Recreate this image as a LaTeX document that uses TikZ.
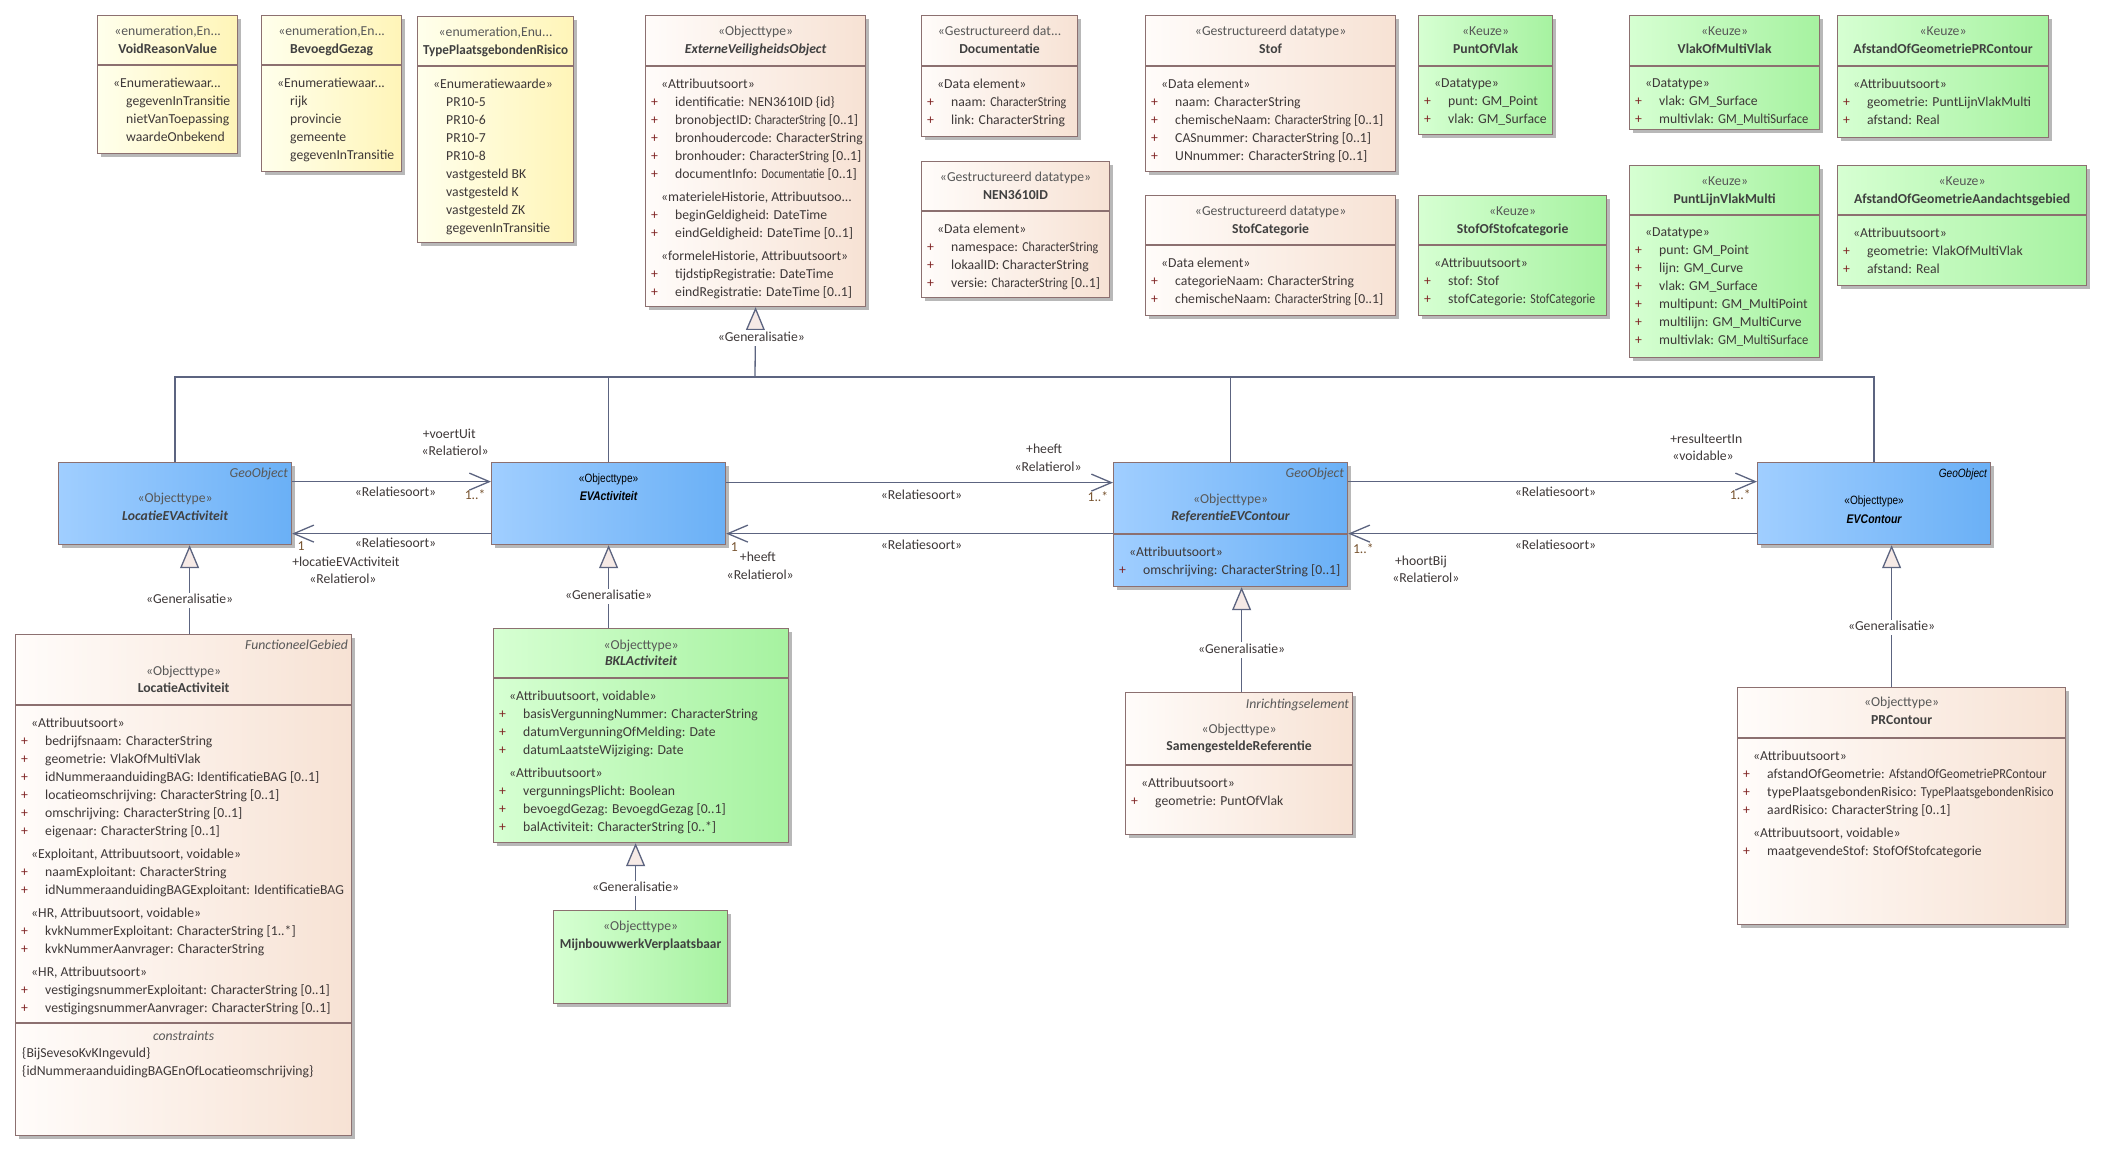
\documentclass[tikz,border=0pt]{standalone}
\usepackage{fontspec}
\setmainfont{Carlito}
\newfontfamily\narrowfont[FakeStretch=0.84]{Liberation Sans}
\usepackage{xcolor}
\usepackage{graphicx}
\usetikzlibrary{positioning,calc,arrows.meta,shadows}

\definecolor{umlline}{RGB}{140,112,112}
\definecolor{connline}{RGB}{92,100,128}
\definecolor{umltext}{RGB}{62,56,56}
\definecolor{stereotext}{RGB}{88,88,88}
\definecolor{nametext}{RGB}{64,64,64}
\definecolor{plusred}{RGB}{128,36,36}
\definecolor{multtext}{RGB}{120,84,48}
\definecolor{enumleft}{RGB}{255,255,236}
\definecolor{enumright}{RGB}{255,245,184}
\definecolor{dataleft}{RGB}{255,252,250}
\definecolor{dataright}{RGB}{247,226,212}
\definecolor{choiceleft}{RGB}{214,255,210}
\definecolor{choiceright}{RGB}{166,242,160}
\definecolor{geoleft}{RGB}{160,206,255}
\definecolor{georight}{RGB}{106,176,246}
\definecolor{genfill}{RGB}{246,234,230}

\newcommand{\umlsize}{\fontsize{13.7pt}{18pt}\selectfont}
\newcommand{\umlattr}[1]{\makebox[24pt][l]{\textcolor{plusred}{+}}#1}
\newcommand{\umlgroup}[1]{\hspace*{10pt}#1}
\newcommand{\umlvalue}[1]{\hspace*{23pt}#1}
\newcommand{\umlsqueeze}[2]{\scalebox{#1}[1]{#2}}

\tikzset{
	umlbox/.style={draw=umlline, line width=1.2pt, anchor=north west, inner sep=0pt,
		drop shadow={shadow xshift=3pt, shadow yshift=-3pt, fill=black!28, opacity=1}},
	enumbox/.style={umlbox, left color=enumleft, right color=enumright},
	databox/.style={umlbox, left color=dataleft, right color=dataright},
	choicebox/.style={umlbox, left color=choiceleft, right color=choiceright},
	geobox/.style={umlbox, left color=geoleft, right color=georight},
	divline/.style={draw=umlline, line width=1.2pt},
	umlstereo/.style={inner sep=0pt, text height=9.5pt, text depth=3pt, text=stereotext, font=\umlsize},
	umlname/.style={inner sep=0pt, text height=9.5pt, text depth=3pt, text=nametext, font=\umlsize\bfseries},
	umlabstract/.style={umlname, font=\umlsize\bfseries\itshape},
	umltag/.style={inner sep=0pt, anchor=east, text height=9.5pt, text depth=3pt, text=stereotext, font=\umlsize\itshape},
	umlbody/.style={anchor=north west, align=left, inner sep=0pt, text=umltext, font=\umlsize,
		execute at begin node={\rule{0pt}{11pt}}},
	narrowstereo/.style={text=black, font=\narrowfont\fontsize{12pt}{14pt}\selectfont},
	narrowname/.style={text=black, font=\narrowfont\fontsize{12.5pt}{14pt}\selectfont\bfseries\itshape},
	assoc/.style={draw=connline, line width=1.3pt, -{Straight Barb[length=20pt,width=17pt]}},
	gen/.style={draw=connline, line width=1.3pt, -{Triangle[length=23pt,width=19pt,fill=genfill]}},
	lbl/.style={inner sep=0pt, text height=9.5pt, text depth=3pt, text=umltext, font=\umlsize},
	mult/.style={lbl, text=multtext},
	genlbl/.style={lbl, fill=white, inner sep=1.5pt}
}

\begin{document}
\begin{tikzpicture}[x=1pt, y=-1pt]
	\fill[white] (0,0) rectangle (2106,1152);
	\useasboundingbox (0,0) rectangle (2106,1152);

	% enumerations
	\node[enumbox, minimum width=140pt, minimum height=138pt] (voidreason) at (97,15) {};
	\draw[divline] ([yshift=-50pt]voidreason.north west) -- ([yshift=-50pt]voidreason.north east);
	\node[umlstereo] (voidreason-st) at ([yshift=-17pt]voidreason.north) {«enumeration,En...};
	\node[umlname] (voidreason-nm) at ([yshift=-35pt]voidreason.north) {VoidReasonValue};
	\node[umlbody] (voidreason-bd) at ([xshift=6pt,yshift=-63pt]voidreason.north west)
		{\umlgroup{«Enumeratiewaar...}\\ \umlvalue{gegevenInTransitie}\\ \umlvalue{nietVanToepassing}\\ \umlvalue{waardeOnbekend}};

	\node[enumbox, minimum width=140pt, minimum height=156pt] (bevoegd) at (261,15) {};
	\draw[divline] ([yshift=-50pt]bevoegd.north west) -- ([yshift=-50pt]bevoegd.north east);
	\node[umlstereo] (bevoegd-st) at ([yshift=-17pt]bevoegd.north) {«enumeration,En...};
	\node[umlname] (bevoegd-nm) at ([yshift=-35pt]bevoegd.north) {BevoegdGezag};
	\node[umlbody] (bevoegd-bd) at ([xshift=6pt,yshift=-63pt]bevoegd.north west)
		{\umlgroup{«Enumeratiewaar...}\\ \umlvalue{rijk}\\ \umlvalue{provincie}\\ \umlvalue{gemeente}\\ \umlvalue{gegevenInTransitie}};

	\node[enumbox, minimum width=156pt, minimum height=226pt] (typepr) at (417,16) {};
	\draw[divline] ([yshift=-50pt]typepr.north west) -- ([yshift=-50pt]typepr.north east);
	\node[umlstereo] (typepr-st) at ([yshift=-17pt]typepr.north) {«enumeration,Enu...};
	\node[umlname] (typepr-nm) at ([yshift=-35pt]typepr.north) {\umlsqueeze{0.96}{TypePlaatsgebondenRisico}};
	\node[umlbody] (typepr-bd) at ([xshift=6pt,yshift=-63pt]typepr.north west)
		{\umlgroup{«Enumeratiewaarde»}\\ \umlvalue{PR10-5}\\ \umlvalue{PR10-6}\\ \umlvalue{PR10-7}\\ \umlvalue{PR10-8}\\
		 \umlvalue{vastgesteld BK}\\ \umlvalue{vastgesteld K}\\ \umlvalue{vastgesteld ZK}\\ \umlvalue{gegevenInTransitie}};

	% supertype
	\node[databox, minimum width=220pt, minimum height=291pt] (evo) at (645,15) {};
	\draw[divline] ([yshift=-51pt]evo.north west) -- ([yshift=-51pt]evo.north east);
	\node[umlstereo] (evo-st) at ([yshift=-17pt]evo.north) {«Objecttype»};
	\node[umlabstract] (evo-nm) at ([yshift=-35pt]evo.north) {ExterneVeiligheidsObject};
	\node[umlbody] (evo-bd) at ([xshift=6pt,yshift=-64pt]evo.north west)
		{\umlgroup{«Attribuutsoort»}\\ \umlattr{identificatie: NEN3610ID \{id\}}\\ \umlattr{bronobjectID: \umlsqueeze{0.82}{CharacterString} [0..1]}\\
		 \umlattr{bronhoudercode: CharacterString}\\ \umlattr{bronhouder: \umlsqueeze{0.92}{CharacterString} [0..1]}\\ \umlattr{documentInfo: \umlsqueeze{0.8}{Documentatie} [0..1]}\\[5pt]
		 \umlgroup{«materieleHistorie, Attribuutsoo...}\\ \umlattr{beginGeldigheid: DateTime}\\ \umlattr{eindGeldigheid: DateTime [0..1]}\\[5pt]
		 \umlgroup{«formeleHistorie, Attribuutsoort»}\\ \umlattr{tijdstipRegistratie: DateTime}\\ \umlattr{eindRegistratie: DateTime [0..1]}};

	% datatypes
	\node[databox, minimum width=156pt, minimum height=121pt] (documentatie) at (921,15) {};
	\draw[divline] ([yshift=-51pt]documentatie.north west) -- ([yshift=-51pt]documentatie.north east);
	\node[umlstereo] (documentatie-st) at ([yshift=-17pt]documentatie.north) {«Gestructureerd dat...};
	\node[umlname] (documentatie-nm) at ([yshift=-35pt]documentatie.north) {Documentatie};
	\node[umlbody] (documentatie-bd) at ([xshift=6pt,yshift=-64pt]documentatie.north west)
		{\umlgroup{«Data element»}\\ \umlattr{naam: \umlsqueeze{0.88}{CharacterString}}\\ \umlattr{link: CharacterString}};

	\node[databox, minimum width=188pt, minimum height=136pt] (nen) at (921,161) {};
	\draw[divline] ([yshift=-50pt]nen.north west) -- ([yshift=-50pt]nen.north east);
	\node[umlstereo] (nen-st) at ([yshift=-17pt]nen.north) {«Gestructureerd datatype»};
	\node[umlname] (nen-nm) at ([yshift=-35pt]nen.north) {NEN3610ID};
	\node[umlbody] (nen-bd) at ([xshift=6pt,yshift=-63pt]nen.north west)
		{\umlgroup{«Data element»}\\ \umlattr{namespace: \umlsqueeze{0.88}{CharacterString}}\\ \umlattr{lokaalID: CharacterString}\\ \umlattr{versie: \umlsqueeze{0.88}{CharacterString} [0..1]}};

	\node[databox, minimum width=250pt, minimum height=156pt] (stof) at (1145,15) {};
	\draw[divline] ([yshift=-51pt]stof.north west) -- ([yshift=-51pt]stof.north east);
	\node[umlstereo] (stof-st) at ([yshift=-17pt]stof.north) {«Gestructureerd datatype»};
	\node[umlname] (stof-nm) at ([yshift=-35pt]stof.north) {Stof};
	\node[umlbody] (stof-bd) at ([xshift=6pt,yshift=-64pt]stof.north west)
		{\umlgroup{«Data element»}\\ \umlattr{naam: CharacterString}\\ \umlattr{chemischeNaam: \umlsqueeze{0.88}{CharacterString} [0..1]}\\
		 \umlattr{CASnummer: CharacterString [0..1]}\\ \umlattr{UNnummer: CharacterString [0..1]}};

	\node[databox, minimum width=250pt, minimum height=120pt] (stofcat) at (1145,195) {};
	\draw[divline] ([yshift=-50pt]stofcat.north west) -- ([yshift=-50pt]stofcat.north east);
	\node[umlstereo] (stofcat-st) at ([yshift=-17pt]stofcat.north) {«Gestructureerd datatype»};
	\node[umlname] (stofcat-nm) at ([yshift=-35pt]stofcat.north) {StofCategorie};
	\node[umlbody] (stofcat-bd) at ([xshift=6pt,yshift=-63pt]stofcat.north west)
		{\umlgroup{«Data element»}\\ \umlattr{categorieNaam: CharacterString}\\ \umlattr{chemischeNaam: \umlsqueeze{0.88}{CharacterString} [0..1]}};

	% choices
	\node[choicebox, minimum width=134pt, minimum height=119pt] (puntofvlak) at (1418,15) {};
	\draw[divline] ([yshift=-51pt]puntofvlak.north west) -- ([yshift=-51pt]puntofvlak.north east);
	\node[umlstereo] (puntofvlak-st) at ([yshift=-17pt]puntofvlak.north) {«Keuze»};
	\node[umlname] (puntofvlak-nm) at ([yshift=-35pt]puntofvlak.north) {PuntOfVlak};
	\node[umlbody] (puntofvlak-bd) at ([xshift=6pt,yshift=-64pt]puntofvlak.north west)
		{\umlgroup{«Datatype»}\\ \umlattr{punt: GM\_Point}\\ \umlattr{vlak: GM\_Surface}};

	\node[choicebox, minimum width=188pt, minimum height=120pt] (stofofcat) at (1418,195) {};
	\draw[divline] ([yshift=-50pt]stofofcat.north west) -- ([yshift=-50pt]stofofcat.north east);
	\node[umlstereo] (stofofcat-st) at ([yshift=-17pt]stofofcat.north) {«Keuze»};
	\node[umlname] (stofofcat-nm) at ([yshift=-35pt]stofofcat.north) {StofOfStofcategorie};
	\node[umlbody] (stofofcat-bd) at ([xshift=6pt,yshift=-63pt]stofofcat.north west)
		{\umlgroup{«Attribuutsoort»}\\ \umlattr{stof: Stof}\\ \umlattr{stofCategorie: \umlsqueeze{0.86}{StofCategorie}}};

	\node[choicebox, minimum width=190pt, minimum height=114pt] (vlakofmulti) at (1629,15) {};
	\draw[divline] ([yshift=-51pt]vlakofmulti.north west) -- ([yshift=-51pt]vlakofmulti.north east);
	\node[umlstereo] (vlakofmulti-st) at ([yshift=-17pt]vlakofmulti.north) {«Keuze»};
	\node[umlname] (vlakofmulti-nm) at ([yshift=-35pt]vlakofmulti.north) {VlakOfMultiVlak};
	\node[umlbody] (vlakofmulti-bd) at ([xshift=6pt,yshift=-64pt]vlakofmulti.north west)
		{\umlgroup{«Datatype»}\\ \umlattr{vlak: GM\_Surface}\\ \umlattr{multivlak: \umlsqueeze{0.92}{GM\_MultiSurface}}};

	\node[choicebox, minimum width=211pt, minimum height=122pt] (afstandpr) at (1837,15) {};
	\draw[divline] ([yshift=-51pt]afstandpr.north west) -- ([yshift=-51pt]afstandpr.north east);
	\node[umlstereo] (afstandpr-st) at ([yshift=-17pt]afstandpr.north) {«Keuze»};
	\node[umlname] (afstandpr-nm) at ([yshift=-35pt]afstandpr.north) {AfstandOfGeometriePRContour};
	\node[umlbody] (afstandpr-bd) at ([xshift=6pt,yshift=-64pt]afstandpr.north west)
		{\umlgroup{«Attribuutsoort»}\\ \umlattr{geometrie: PuntLijnVlakMulti}\\ \umlattr{afstand: Real}};

	\node[choicebox, minimum width=190pt, minimum height=192pt] (puntlijn) at (1629,165) {};
	\draw[divline] ([yshift=-50pt]puntlijn.north west) -- ([yshift=-50pt]puntlijn.north east);
	\node[umlstereo] (puntlijn-st) at ([yshift=-17pt]puntlijn.north) {«Keuze»};
	\node[umlname] (puntlijn-nm) at ([yshift=-35pt]puntlijn.north) {PuntLijnVlakMulti};
	\node[umlbody] (puntlijn-bd) at ([xshift=6pt,yshift=-63pt]puntlijn.north west)
		{\umlgroup{«Datatype»}\\ \umlattr{punt: GM\_Point}\\ \umlattr{lijn: GM\_Curve}\\ \umlattr{vlak: GM\_Surface}\\
		 \umlattr{multipunt: GM\_MultiPoint}\\ \umlattr{multilijn: GM\_MultiCurve}\\ \umlattr{multivlak: \umlsqueeze{0.92}{GM\_MultiSurface}}};

	\node[choicebox, minimum width=249pt, minimum height=120pt] (afstandaand) at (1837,165) {};
	\draw[divline] ([yshift=-50pt]afstandaand.north west) -- ([yshift=-50pt]afstandaand.north east);
	\node[umlstereo] (afstandaand-st) at ([yshift=-17pt]afstandaand.north) {«Keuze»};
	\node[umlname] (afstandaand-nm) at ([yshift=-35pt]afstandaand.north) {AfstandOfGeometrieAandachtsgebied};
	\node[umlbody] (afstandaand-bd) at ([xshift=6pt,yshift=-63pt]afstandaand.north west)
		{\umlgroup{«Attribuutsoort»}\\ \umlattr{geometrie: VlakOfMultiVlak}\\ \umlattr{afstand: Real}};

	% geo objects
	\node[geobox, minimum width=233pt, minimum height=82pt] (locev) at (58,462) {};
	\node[umltag] (locev-tg) at ([xshift=-4pt,yshift=-12pt]locev.north east) {GeoObject};
	\node[umlstereo] (locev-st) at ([yshift=-37pt]locev.north) {«Objecttype»};
	\node[umlabstract] (locev-nm) at ([yshift=-55pt]locev.north) {LocatieEVActiviteit};

	\node[geobox, minimum width=234pt, minimum height=82pt] (evact) at (491,462) {};
	\node[umlstereo, narrowstereo] (evact-st) at ([yshift=-17pt]evact.north) {«Objecttype»};
	\node[umlabstract, narrowname] (evact-nm) at ([yshift=-35pt]evact.north) {EVActiviteit};

	\node[geobox, minimum width=234pt, minimum height=124pt] (refevc) at (1113,462) {};
	\draw[divline] ([yshift=-72pt]refevc.north west) -- ([yshift=-72pt]refevc.north east);
	\node[umltag] (refevc-tg) at ([xshift=-4pt,yshift=-12pt]refevc.north east) {GeoObject};
	\node[umlstereo] (refevc-st) at ([yshift=-38pt]refevc.north) {«Objecttype»};
	\node[umlabstract] (refevc-nm) at ([yshift=-55pt]refevc.north) {ReferentieEVContour};
	\node[umlbody] (refevc-bd) at ([xshift=6pt,yshift=-85pt]refevc.north west)
		{\umlgroup{«Attribuutsoort»}\\ \umlattr{omschrijving: CharacterString [0..1]}};

	\node[geobox, minimum width=233pt, minimum height=82pt] (evcontour) at (1757,462) {};
	\node[umltag, text=black, font=\narrowfont\fontsize{12pt}{14pt}\selectfont\itshape] (evcontour-tg) at ([xshift=-4pt,yshift=-12pt]evcontour.north east) {GeoObject};
	\node[umlstereo, narrowstereo] (evcontour-st) at ([yshift=-39pt]evcontour.north) {«Objecttype»};
	\node[umlabstract, narrowname] (evcontour-nm) at ([yshift=-58pt]evcontour.north) {EVContour};

	% subtypes
	\node[databox, minimum width=336pt, minimum height=501pt] (locact) at (15,634) {};
	\draw[divline] ([yshift=-71pt]locact.north west) -- ([yshift=-71pt]locact.north east);
	\draw[divline] ([yshift=-389pt]locact.north west) -- ([yshift=-389pt]locact.north east);
	\node[umltag] (locact-tg) at ([xshift=-4pt,yshift=-12pt]locact.north east) {FunctioneelGebied};
	\node[umlstereo] (locact-st) at ([yshift=-38pt]locact.north) {«Objecttype»};
	\node[umlname] (locact-nm) at ([yshift=-55pt]locact.north) {LocatieActiviteit};
	\node[umlbody] (locact-bd) at ([xshift=6pt,yshift=-84pt]locact.north west)
		{\umlgroup{«Attribuutsoort»}\\ \umlattr{bedrijfsnaam: CharacterString}\\ \umlattr{geometrie: VlakOfMultiVlak}\\
		 \umlattr{idNummeraanduidingBAG: IdentificatieBAG [0..1]}\\ \umlattr{locatieomschrijving: CharacterString [0..1]}\\
		 \umlattr{omschrijving: CharacterString [0..1]}\\ \umlattr{eigenaar: CharacterString [0..1]}\\[5pt]
		 \umlgroup{«Exploitant, Attribuutsoort, voidable»}\\ \umlattr{naamExploitant: CharacterString}\\
		 \umlattr{idNummeraanduidingBAGExploitant: IdentificatieBAG}\\[5pt]
		 \umlgroup{«HR, Attribuutsoort, voidable»}\\ \umlattr{kvkNummerExploitant: CharacterString [1..*]}\\
		 \umlattr{kvkNummerAanvrager: CharacterString}\\[5pt]
		 \umlgroup{«HR, Attribuutsoort»}\\ \umlattr{vestigingsnummerExploitant: CharacterString [0..1]}\\
		 \umlattr{vestigingsnummerAanvrager: CharacterString [0..1]}};
	\node[umlstereo, font=\umlsize\itshape] (locact-cs) at ([yshift=-403pt]locact.north) {constraints};
	\node[umlbody] (locact-cb) at ([xshift=7pt,yshift=-413pt]locact.north west)
		{\{BijSevesoKvKIngevuld\}\\ \{idNummeraanduidingBAGEnOfLocatieomschrijving\}};

	\node[choicebox, minimum width=295pt, minimum height=214pt] (bkl) at (493,628) {};
	\draw[divline] ([yshift=-50pt]bkl.north west) -- ([yshift=-50pt]bkl.north east);
	\node[umlstereo] (bkl-st) at ([yshift=-18pt]bkl.north) {«Objecttype»};
	\node[umlabstract] (bkl-nm) at ([yshift=-34pt]bkl.north) {BKLActiviteit};
	\node[umlbody] (bkl-bd) at ([xshift=6pt,yshift=-63pt]bkl.north west)
		{\umlgroup{«Attribuutsoort, voidable»}\\ \umlattr{basisVergunningNummer: CharacterString}\\
		 \umlattr{datumVergunningOfMelding: Date}\\ \umlattr{datumLaatsteWijziging: Date}\\[5pt]
		 \umlgroup{«Attribuutsoort»}\\ \umlattr{vergunningsPlicht: Boolean}\\ \umlattr{bevoegdGezag: BevoegdGezag [0..1]}\\
		 \umlattr{balActiviteit: CharacterString [0..*]}};

	\node[choicebox, minimum width=174pt, minimum height=93pt] (mijnbouw) at (553,910) {};
	\node[umlstereo] (mijnbouw-st) at ([yshift=-17pt]mijnbouw.north) {«Objecttype»};
	\node[umlname] (mijnbouw-nm) at ([yshift=-35pt]mijnbouw.north) {\umlsqueeze{0.97}{MijnbouwwerkVerplaatsbaar}};

	\node[databox, minimum width=227pt, minimum height=142pt] (samref) at (1125,692) {};
	\draw[divline] ([yshift=-73pt]samref.north west) -- ([yshift=-73pt]samref.north east);
	\node[umltag] (samref-tg) at ([xshift=-4pt,yshift=-13pt]samref.north east) {Inrichtingselement};
	\node[umlstereo] (samref-st) at ([yshift=-38pt]samref.north) {«Objecttype»};
	\node[umlname] (samref-nm) at ([yshift=-55pt]samref.north) {SamengesteldeReferentie};
	\node[umlbody] (samref-bd) at ([xshift=6pt,yshift=-86pt]samref.north west)
		{\umlgroup{«Attribuutsoort»}\\ \umlattr{geometrie: PuntOfVlak}};

	\node[databox, minimum width=328pt, minimum height=237pt] (prcontour) at (1737,687) {};
	\draw[divline] ([yshift=-51pt]prcontour.north west) -- ([yshift=-51pt]prcontour.north east);
	\node[umlstereo] (prcontour-st) at ([yshift=-16pt]prcontour.north) {«Objecttype»};
	\node[umlname] (prcontour-nm) at ([yshift=-34pt]prcontour.north) {PRContour};
	\node[umlbody] (prcontour-bd) at ([xshift=6pt,yshift=-64pt]prcontour.north west)
		{\umlgroup{«Attribuutsoort»}\\ \umlattr{afstandOfGeometrie: \umlsqueeze{0.9}{AfstandOfGeometriePRContour}}\\
		 \umlattr{typePlaatsgebondenRisico: \umlsqueeze{0.9}{TypePlaatsgebondenRisico}}\\ \umlattr{aardRisico: CharacterString [0..1]}\\[5pt]
		 \umlgroup{«Attribuutsoort, voidable»}\\ \umlattr{maatgevendeStof: StofOfStofcategorie}};

	% generalisations to ExterneVeiligheidsObject
	\coordinate (evobus) at (755,377);
	\draw[gen] (evobus) -- node[genlbl, pos=0.56, xshift=6pt] (evo-gen) {«Generalisatie»} (evo.south);
	\draw[connline, line width=1.3pt] (locev.north) |- (evobus);
	\draw[connline, line width=1.3pt] (evact.north) |- (evobus);
	\draw[connline, line width=1.3pt] (refevc.north) |- (evobus);
	\draw[connline, line width=1.3pt] (evcontour.north) |- (evobus);

	% other generalisations
	\draw[gen] ([xshift=6pt]locact.north) -- node[genlbl, pos=0.38] (locev-gen) {«Generalisatie»} ([xshift=14.5pt]locev.south);
	\draw[gen] ([xshift=-32.5pt]bkl.north) -- node[genlbl, pos=0.38] (evact-gen) {«Generalisatie»} (evact.south);
	\draw[gen] ([xshift=-5pt]mijnbouw.north) -- node[genlbl, pos=0.32] (bkl-gen) {«Generalisatie»} ([xshift=-5.5pt]bkl.south);
	\draw[gen] ([xshift=2.5pt]samref.north) -- node[genlbl, pos=0.40] (refevc-gen) {«Generalisatie»} ([xshift=11pt]refevc.south);
	\draw[gen] ([xshift=-10pt]prcontour.north) -- node[genlbl, pos=0.42] (evcontour-gen) {«Generalisatie»} ([xshift=17.5pt]evcontour.south);

	% relations
	\draw[assoc] ([yshift=22pt]locev.east) --
		node[lbl, pos=0.52, yshift=-12pt] (voertuit-rs) {«Relatiesoort»}
		node[mult, pos=0.92, yshift=-15pt] (voertuit-mp) {1..*}
		node[lbl, pos=0.79, yshift=46pt] (voertuit-nm) {+voertUit}
		node[lbl, pos=0.82, yshift=29pt] (voertuit-rl) {«Relatierol»}
		([yshift=22pt]evact.west);
	\draw[assoc] ([yshift=-30pt]evact.west) --
		node[lbl, pos=0.48, yshift=-11pt] (locevact-rs) {«Relatiesoort»}
		node[mult, pos=0.955, yshift=-14pt] (locevact-mp) {1}
		node[lbl, pos=0.73, yshift=-30pt] (locevact-nm) {+locatieEVActiviteit}
		node[lbl, pos=0.745, yshift=-47pt] (locevact-rl) {«Relatierol»}
		([yshift=-30pt]locev.east);
	\draw[assoc] ([yshift=21pt]evact.east) --
		node[lbl, pos=0.505, yshift=-14pt] (heeftref-rs) {«Relatiesoort»}
		node[mult, pos=0.961, yshift=-16pt] (heeftref-mp) {1..*}
		node[lbl, pos=0.822, yshift=32pt] (heeftref-nm) {+heeft}
		node[lbl, pos=0.832, yshift=14pt] (heeftref-rl) {«Relatierol»}
		([yshift=42pt]refevc.west);
	\draw[assoc] ([yshift=-9pt]refevc.west) --
		node[lbl, pos=0.495, yshift=-13pt] (heeftact-rs) {«Relatiesoort»}
		node[mult, pos=0.979, yshift=-15pt] (heeftact-mp) {1}
		node[lbl, pos=0.918, yshift=-25pt] (heeftact-nm) {+heeft}
		node[lbl, pos=0.912, yshift=-43pt] (heeftact-rl) {«Relatierol»}
		([yshift=-30pt]evact.east);
	\draw[assoc] ([yshift=43pt]refevc.east) --
		node[lbl, pos=0.507, yshift=-12pt] (resulteert-rs) {«Relatiesoort»}
		node[mult, pos=0.959, yshift=-15pt] (resulteert-mp) {1..*}
		node[lbl, pos=0.876, yshift=41pt] (resulteert-nm) {+resulteertIn}
		node[lbl, pos=0.868, yshift=24pt] (resulteert-vd) {«voidable»}
		([yshift=22pt]evcontour.west);
	\draw[assoc] ([yshift=-30pt]evcontour.west) --
		node[lbl, pos=0.493, yshift=-13pt] (hoortbij-rs) {«Relatiesoort»}
		node[mult, pos=0.963, yshift=-17pt] (hoortbij-mp) {1..*}
		node[lbl, pos=0.822, yshift=-29pt] (hoortbij-nm) {+hoortBij}
		node[lbl, pos=0.81, yshift=-46pt] (hoortbij-rl) {«Relatierol»}
		([yshift=-9pt]refevc.east);

\end{tikzpicture}
\end{document}
